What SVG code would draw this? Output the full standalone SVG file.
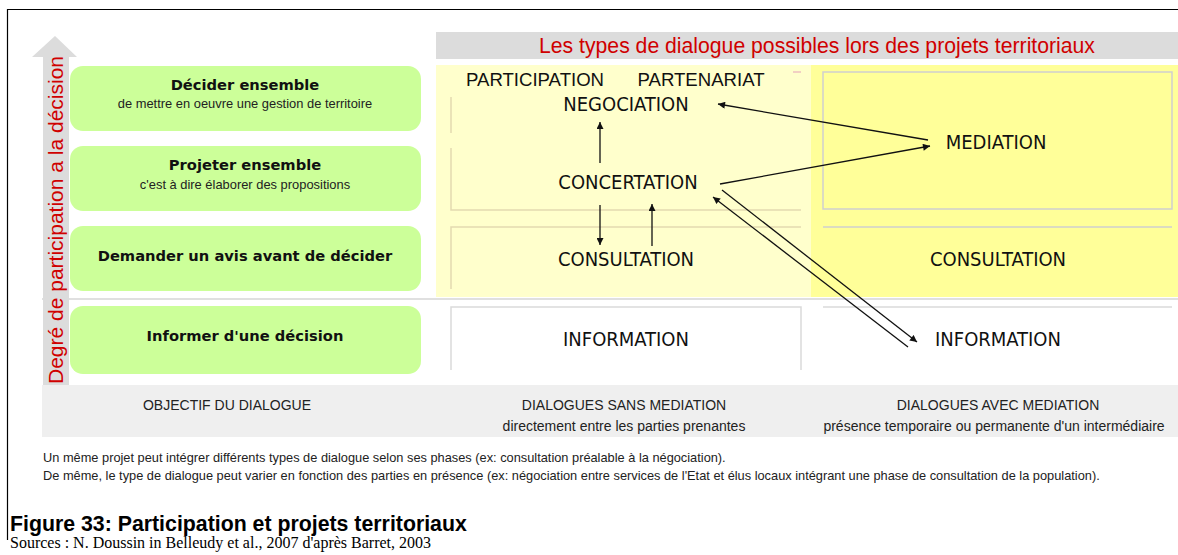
<svg xmlns="http://www.w3.org/2000/svg" width="1178" height="555" viewBox="0 0 1178 555">
<defs>
<marker id="ah" viewBox="0 0 10 10" refX="10" refY="5" markerWidth="9" markerHeight="7" markerUnits="userSpaceOnUse" orient="auto"><path d="M0,0 L10,5 L0,10 z" fill="#111"/></marker>
<style>
.box{fill:#ccff99;}
.t1{font-family:"DejaVu Sans",sans-serif;font-weight:bold;font-size:14.7px;fill:#111;text-anchor:middle;}
.t2{font-family:"Liberation Sans",Arial,sans-serif;font-size:12.9px;fill:#222;text-anchor:middle;}
.lab{font-family:"DejaVu Sans Condensed","DejaVu Sans",sans-serif;font-stretch:condensed;font-size:20px;fill:#111;text-anchor:middle;}
.lab2{font-family:"Liberation Sans",Arial,sans-serif;font-size:18.6px;fill:#111;text-anchor:middle;}
.foot{font-family:"Liberation Sans",Arial,sans-serif;font-size:14px;fill:#222;text-anchor:middle;}
.note{font-family:"Liberation Sans",Arial,sans-serif;font-size:12.8px;fill:#222;}
.tan{stroke:#e3dab0;stroke-width:1.5;fill:none;}
.gry{stroke:#cfcfcf;stroke-width:1.5;fill:none;}
.conn{stroke:#111;stroke-width:1.3;fill:none;marker-end:url(#ah);}
</style>
</defs>
<rect width="1178" height="555" fill="#fff"/>
<!-- frame -->
<path d="M7.5,540 V9.5 H1178" stroke="#000" stroke-width="1.2" fill="none"/>

<!-- header bar -->
<g id="header">
<rect x="436" y="32" width="742" height="27" fill="#dcdcdc"/>
<text x="817" y="53" font-family="Liberation Sans, Arial, sans-serif" font-size="21.2" fill="#d00000" text-anchor="middle">Les types de dialogue possibles lors des projets territoriaux</text>
</g>

<!-- yellow areas -->
<rect x="436" y="65" width="375" height="232" fill="#ffffcc"/>
<rect x="811" y="65" width="367" height="232" fill="#ffff99"/>
<line x1="42" y1="299" x2="1178" y2="299" stroke="#d6d6d6" stroke-width="1.5"/>

<!-- inner frames -->
<path class="tan" d="M451,97 V133 M451,148 V210 H801"/>
<path d="M793,72 H801" stroke="#eec0c0" stroke-width="1.5"/>
<path class="tan" d="M451,289 V227 H801"/>
<rect class="gry" x="823" y="72" width="349" height="137"/>
<path class="gry" d="M823,227 H1172"/>
<path d="M451,370 V307 H801 V370" stroke="#dadada" stroke-width="1.5" fill="none"/>
<path d="M823,307 H1172" stroke="#dadada" stroke-width="1.5" fill="none"/>

<!-- vertical axis arrow -->
<g id="axis">
<path d="M43,385 V57 H32 L55,36 L77,57 H69 V385 Z" fill="#dcdcdc"/>
<text transform="translate(63,220) rotate(-90)" font-family="Liberation Sans, Arial, sans-serif" font-size="21" fill="#d00000" text-anchor="middle">Degré de participation a la décision</text>
</g>

<!-- objective boxes -->
<g id="obj-decider">
<rect class="box" x="70" y="66" width="351" height="65" rx="13"/>
<text class="t1" x="245" y="90">Décider ensemble</text>
<text class="t2" x="245" y="108">de mettre en oeuvre une gestion de territoire</text>
</g>
<g id="obj-projeter">
<rect class="box" x="70" y="146" width="351" height="65" rx="13"/>
<text class="t1" x="245" y="170">Projeter ensemble</text>
<text class="t2" x="245" y="189">c'est à dire élaborer des propositions</text>
</g>
<g id="obj-demander">
<rect class="box" x="70" y="226" width="351" height="65" rx="13"/>
<text class="t1" x="245" y="261">Demander un avis avant de décider</text>
</g>
<g id="obj-informer">
<rect class="box" x="70" y="306" width="351" height="68" rx="13"/>
<text class="t1" x="245" y="341">Informer d'une décision</text>
</g>

<!-- dialogue type nodes -->
<g id="n-participation"><text class="lab2" x="535" y="86">PARTICIPATION</text></g>
<g id="n-partenariat"><text class="lab2" x="701" y="86">PARTENARIAT</text></g>
<g id="n-negociation"><text class="lab" x="626" y="111">NEGOCIATION</text></g>
<g id="n-concertation"><text class="lab" x="628" y="189">CONCERTATION</text></g>
<g id="n-consultation1"><text class="lab" x="626" y="266">CONSULTATION</text></g>
<g id="n-information1"><text class="lab" x="626" y="346">INFORMATION</text></g>
<g id="n-mediation"><text class="lab" x="996" y="149">MEDIATION</text></g>
<g id="n-consultation2"><text class="lab" x="998" y="266">CONSULTATION</text></g>
<g id="n-information2"><text class="lab" x="998" y="346">INFORMATION</text></g>

<!-- connectors -->
<g id="connectors">
<line class="conn" x1="928" y1="140" x2="718" y2="104"/>
<line class="conn" x1="720" y1="184" x2="930" y2="146"/>
<line class="conn" x1="600" y1="163" x2="600" y2="122"/>
<line class="conn" x1="600" y1="205" x2="600" y2="245"/>
<line class="conn" x1="652" y1="246" x2="652" y2="204"/>
<line class="conn" x1="908" y1="347" x2="713" y2="197"/>
<line class="conn" x1="722" y1="190" x2="917" y2="342"/>
</g>

<!-- bottom bar -->
<g id="footer">
<rect x="42" y="385" width="1136" height="52" fill="#efefef"/>
<text class="foot" x="227" y="410">OBJECTIF DU DIALOGUE</text>
<text class="foot" x="624" y="410">DIALOGUES SANS MEDIATION</text>
<text class="foot" x="624" y="431">directement entre les parties prenantes</text>
<text class="foot" x="998" y="410">DIALOGUES AVEC MEDIATION</text>
<text class="foot" x="994" y="431">présence temporaire ou permanente d'un intermédiaire</text>
</g>

<text class="note" x="43" y="462">Un même projet peut intégrer différents types de dialogue selon ses phases (ex: consultation préalable à la négociation).</text>
<text class="note" x="43" y="480">De même, le type de dialogue peut varier en fonction des parties en présence (ex: négociation entre services de l'Etat et élus locaux intégrant une phase de consultation de la population).</text>

<text x="10" y="531" font-family="Liberation Sans, Arial, sans-serif" font-weight="bold" font-size="21.3" fill="#000">Figure 33: Participation et projets territoriaux</text>
<text x="10" y="548" font-family="Liberation Serif, Times New Roman, serif" font-size="16" fill="#000">Sources : N. Doussin in Belleudy et al., 2007 d'après Barret, 2003</text>
</svg>
